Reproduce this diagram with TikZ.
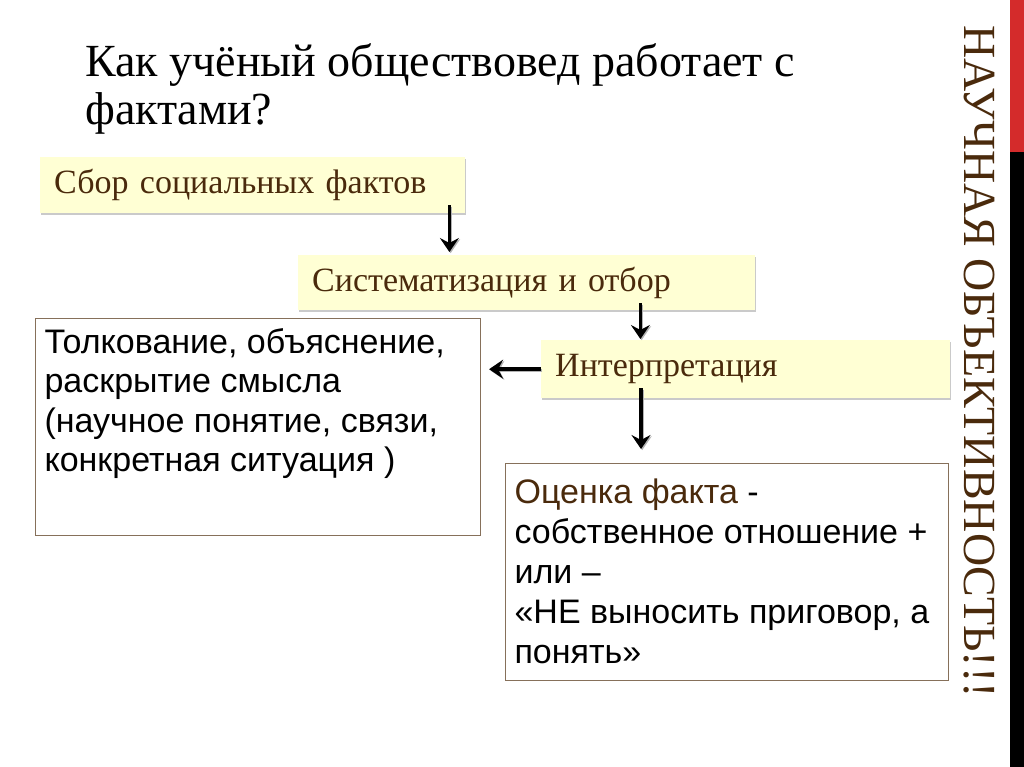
\documentclass[tikz,border=0pt]{standalone}
\usepackage{fontspec}
\setmainfont{Liberation Serif}
\newfontfamily\arialfont{Liberation Sans}
\usetikzlibrary{arrows.meta,shadows}
\definecolor{ylwfill}{HTML}{FFFFD4}
\definecolor{brntext}{HTML}{4A2A0C}
\definecolor{brnline}{HTML}{86705A}
\definecolor{barred}{HTML}{D42B2B}
\tikzset{
  ybox/.style={fill=ylwfill, anchor=north west, align=left, inner xsep=14pt,
    text=brntext, font=\fontsize{34}{38}\selectfont,
    drop shadow={shadow xshift=1.2pt, shadow yshift=-1.5pt, fill=black!35, opacity=.6}},
  wbox/.style={draw=brnline, line width=1.1pt, fill=white, anchor=north west,
    inner xsep=9pt, inner ysep=5pt},
  arr/.style={line width=3.6pt, -{Stealth[length=14pt,width=19pt,inset=5pt]},
    preaction={draw=black!30, line width=3.6pt, transform canvas={xshift=1.2pt,yshift=-1.2pt}}}
}
\begin{document}
\begin{tikzpicture}[x=1pt,y=-1pt]
  \useasboundingbox (0,0) rectangle (1024,767);
  % side bar on the right
  \fill[barred] (1010,0) rectangle (1024,152);
  \fill[black] (1010,152) rectangle (1024,767);
  % title
  \node[anchor=base west, align=left, inner sep=0pt, font=\fontsize{46}{48}\selectfont] (title) at (85,125)
    {Как учёный обществовед работает с\\фактами?};
  % vertical slogan
  \node[rotate=-90, anchor=base west, inner sep=0pt, text=brntext, font=\fontsize{46}{48}\selectfont] (slogan) at (964,25)
    {НАУЧНАЯ ОБЪЕКТИВНОСТЬ!!!};
  % yellow steps
  \node[ybox, minimum width=425, minimum height=56, text width=397pt] (sbor) at (40,157)
    {Сбор социальных фактов};
  \node[ybox, minimum width=457, minimum height=55, text width=429pt] (sist) at (298,255)
    {Систематизация и отбор};
  \node[ybox, minimum width=409, minimum height=58, text width=381pt] (interp) at (541,340)
    {Интерпретация};
  % white boxes
  \node[wbox] (tolk) at (35,318) {\begin{minipage}[t][207pt][t]{427pt}\arialfont
    \fontsize{34}{39.3}\selectfont\rule{0pt}{30pt}Толкование, объяснение,\\раскрытие смысла\\(научное понятие, связи,\\конкретная ситуация )\end{minipage}};
  \node[wbox] (ocenka) at (505,463) {\begin{minipage}[t][207pt][t]{425pt}\arialfont
    \fontsize{34}{40}\selectfont\rule{0pt}{35pt}\textcolor{brntext}{Оценка факта} -\\собственное отношение +\\или –\\«НЕ выносить приговор, а\\понять»\end{minipage}};
  % arrows
  \draw[arr] ([xshift=-16pt,yshift=8pt]sbor.south east) -- ([xshift=-16pt,yshift=3pt]sbor.south east |- sist.north);
  \draw[arr] ([xshift=-115pt,yshift=7pt]sist.south east) -- ([xshift=-115pt,yshift=1pt]sist.south east |- interp.north);
  \draw[arr] ([xshift=100pt,yshift=10pt]interp.south west) -- ([xshift=100pt,yshift=14pt]interp.south west |- ocenka.north);
  \draw[arr] (interp.west) -- ([xshift=8pt]interp.west -| tolk.east);
\end{tikzpicture}
\end{document}
